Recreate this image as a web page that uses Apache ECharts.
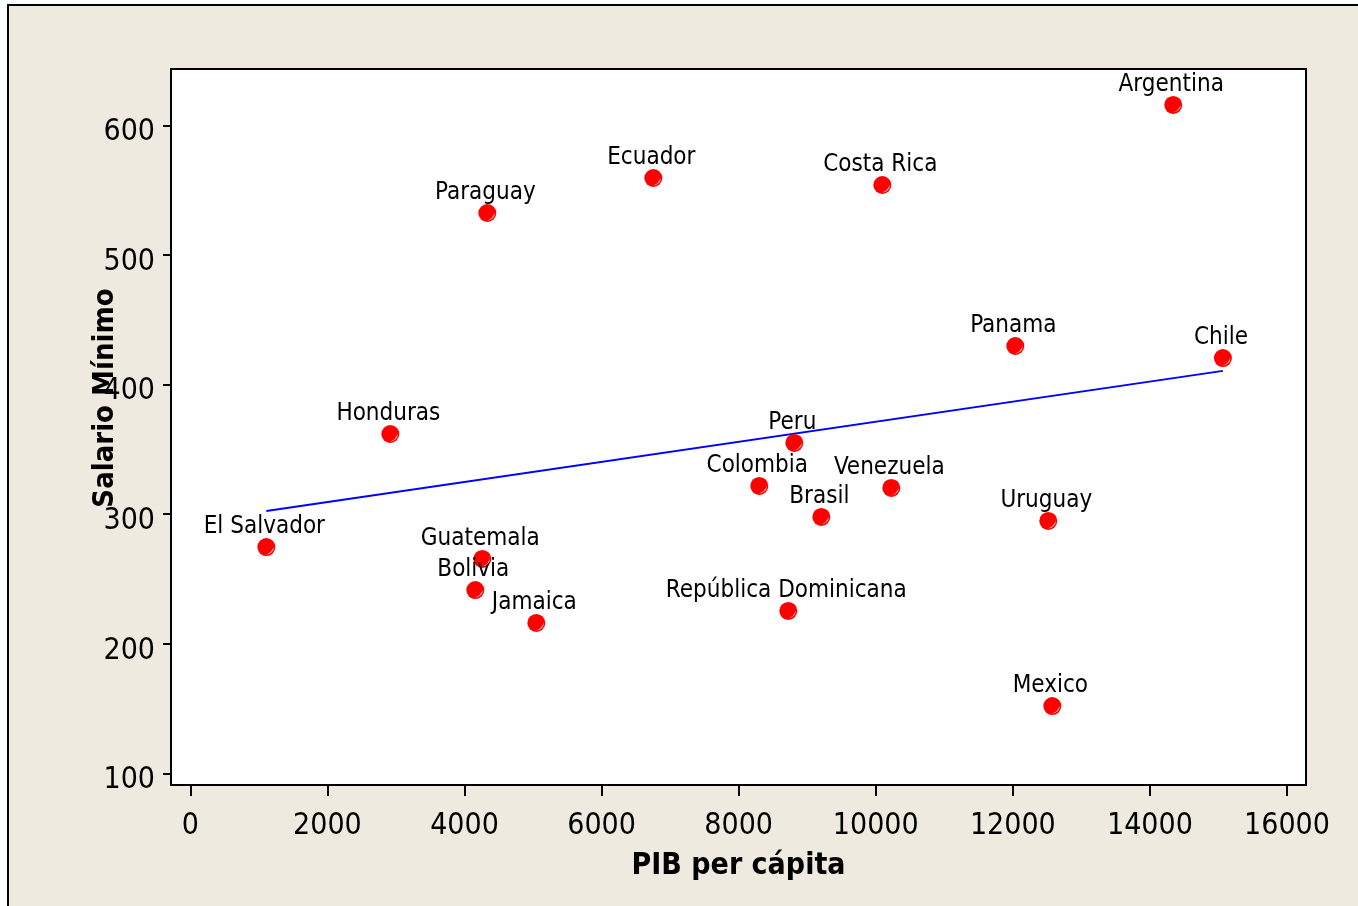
<!DOCTYPE html>
<html>
<head>
<meta charset="utf-8">
<script src="https://cdn.jsdelivr.net/npm/echarts@6/dist/echarts.min.js"></script>
<style>
  html, body { margin: 0; padding: 0; background: #ffffff; overflow: hidden; }
  #frame { position: absolute; left: 7px; top: 4px; width: 1400px; height: 1000px;
           background: #EEEAE0; border-left: 2px solid #000; border-top: 2px solid #000; }
  #chart { position: absolute; left: 0; top: 0; width: 1358px; height: 906px; }
</style>
</head>
<body>
<div id="frame"></div>
<div id="chart"></div>
<script>
const countries = ["Argentina","Ecuador","Costa Rica","Paraguay","Panama","Chile","Honduras","Peru",
  "Colombia","Venezuela","Brasil","Uruguay","El Salvador","Guatemala","Bolivia","Jamaica",
  "República Dominicana","Mexico"];
const pibPerCapita = [14340, 6755, 10096, 4333, 12036, 15065, 2918, 8812,
  8301, 10227, 9206, 12517, 1109, 4260, 4158, 5048, 8724, 12576];
const salarioMinimo = [615.7, 559.3, 553.9, 532.3, 429.7, 420.4, 361.8, 354.9,
  321.7, 320.2, 297.8, 294.7, 274.6, 265.4, 241.4, 216.0, 225.3, 151.9];
const fitX = [1109, 15065];
const fitY = [302.4, 410.5];
const xTicks = [0, 2000, 4000, 6000, 8000, 10000, 12000, 14000, 16000];
const yTicks = [100, 200, 300, 400, 500, 600];

const pts = countries.map((c, i) => ({ name: c, value: [pibPerCapita[i], salarioMinimo[i]] }));
const fitLine = fitX.map((x, i) => [x, fitY[i]]);

const font = '"DejaVu Sans Condensed", "DejaVu Sans", sans-serif';
const chart = echarts.init(document.getElementById('chart'), null, { renderer: 'canvas' });
chart.setOption({
  backgroundColor: 'transparent',
  animation: false,
  grid: { left: 171, right: 52, top: 69, bottom: 121, show: true,
          backgroundColor: '#ffffff', borderColor: '#000000', borderWidth: 2 },
  xAxis: {
    type: 'value', min: -282, max: 16277,
    name: 'PIB per cápita', nameLocation: 'middle', nameGap: 66, nameMoveOverlap: false,
    nameTextStyle: { fontFamily: font, fontSize: 30, fontWeight: 'bold', color: '#000' },
    axisLine: { show: true, onZero: false, lineStyle: { color: '#000', width: 2 } },
    axisTick: { show: true, length: 11, customValues: xTicks, lineStyle: { color: '#000', width: 2 } },
    axisLabel: { customValues: xTicks, margin: 26, fontFamily: font, fontSize: 30, color: '#000',
                 formatter: v => String(v) },
    splitLine: { show: false }
  },
  yAxis: {
    type: 'value', min: 91, max: 643.4,
    name: 'Salario Mínimo', nameLocation: 'middle', nameGap: 51, nameMoveOverlap: false,
    nameTextStyle: { fontFamily: font, fontSize: 29, fontWeight: 'bold', color: '#000',
                     padding: [0, 0, 0, 58] },
    axisLine: { show: true, onZero: false, lineStyle: { color: '#000', width: 2 } },
    axisTick: { show: true, length: 8, customValues: yTicks, lineStyle: { color: '#000', width: 2 } },
    axisLabel: { customValues: yTicks, margin: 16, fontFamily: font, fontSize: 30, color: '#000',
                 verticalAlign: 'top', lineHeight: 14, formatter: v => String(v) },
    splitLine: { show: false }
  },
  series: [
    {
      type: 'line', data: fitLine, symbol: 'none', silent: true, z: 1,
      lineStyle: { color: '#0000FF', width: 2 }
    },
    {
      type: 'scatter', data: pts, symbol: 'circle', symbolSize: 18, z: 3,
      itemStyle: { color: '#FF0000', opacity: 1 },
      label: {
        show: true, position: 'top', distance: 0, offset: [-2, 1],
        formatter: p => p.name, fontFamily: font, fontSize: 24, color: '#000'
      }
    },
    {
      type: 'scatter', data: pts, silent: true, z: 4,
      symbol: 'path://M10 0 A10 10 0 0 1 0 10 A14 14 0 0 0 10 0 Z',
      symbolSize: [8, 8], symbolOffset: [3.5, 3.5],
      itemStyle: { color: '#FFFFFF', opacity: 1 },
      label: { show: false }
    }
  ]
});
</script>
</body>
</html>
